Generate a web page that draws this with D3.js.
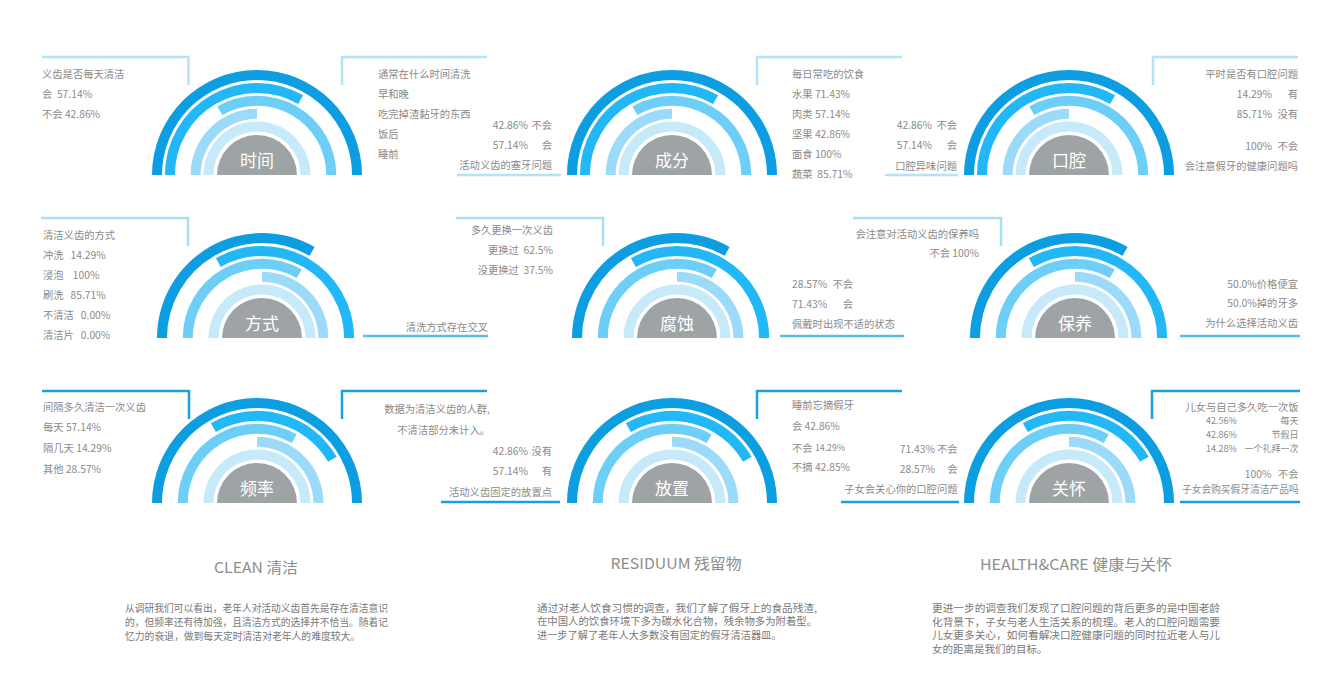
<!DOCTYPE html>
<html><head><meta charset="utf-8">
<script src="https://cdn.jsdelivr.net/npm/d3@7"></script>
<style>
html,body{margin:0;padding:0;background:#fff;}
svg{display:block;}
text{font-family:"Noto Sans CJK SC","Noto Sans",sans-serif;white-space:pre;}
</style></head><body>
<svg id="chart" width="1341" height="683"></svg>
<script>
// ================= DATA =================
const gaugeNames = ["时间","成分","口腔","方式","腐蚀","保养","频率","放置","关怀"];
const ringIds = ["R1","R2","R3","R4","R5"];
// covered share of each half ring: [start, end], 0 = left end, 1 = right end
const patternTop    = [[0,1],[0,0.667],[0.333,1],[0,0.5],[0,1]];
const patternMiddle = [[0,0.667],[0.333,1],[0,0.667],[0.5,1],[0,1]];
const patternBottom = [[0,1],[0.333,0.833],[0,0.667],[0.5,1],[0,1]];
const gaugePatterns = [patternTop,patternTop,patternTop,patternMiddle,patternMiddle,patternMiddle,patternBottom,patternBottom,patternBottom];

// annotation texts
const qDailyClean = ["义齿是否每天清洁","会  57.14%","不会 42.86%"];
const qCleanTime = ["通常在什么时间清洗","早和晚","吃完掉渣黏牙的东西","饭后","睡前"];
const qFoodStuck = [["42.86%","不会"],["57.14%","会"]];
const qFoodStuckTitle = "活动义齿的塞牙问题";
const qDiet = ["每日常吃的饮食","水果 71.43%","肉类 57.14%","坚果 42.86%","面食 100%","蔬菜  85.71%"];
const qOdor = [["42.86%","不会"],["57.14%","会"]];
const qOdorTitle = "口腔异味问题";
const qOralTitle = "平时是否有口腔问题";
const qOral = [["14.29%","有"],["85.71%","没有"]];
const qDentureHealth = [["100%","不会"]];
const qDentureHealthTitle = "会注意假牙的健康问题吗";

const qMethod = ["清洁义齿的方式","冲洗   14.29%","浸泡    100%","刷洗   85.71%","不清洁   0.00%","清洁片   0.00%"];
const qCross = ["清洗方式存在交叉"];
const qReplace = ["多久更换一次义齿","更换过  62.5%","没更换过  37.5%"];
const qDiscomfort = [["28.57%","不会"],["71.43%","会"]];
const qDiscomfortTitle = "佩戴时出现不适的状态";
const qCare = ["会注意对活动义齿的保养吗","不会 100%"];
const qWhy = ["50.0%价格便宜","50.0%掉的牙多","为什么选择活动义齿"];

const qFreq = ["间隔多久清洁一次义齿","每天 57.14%","隔几天 14.29%","其他 28.57%"];
const qNote = ["数据为清洁义齿的人群,","不清洁部分未计入。"];
const qPlace = [["42.86%","没有"],["57.14%","有"]];
const qPlaceTitle = "活动义齿固定的放置点";
const qSleep = ["睡前忘摘假牙","会 42.86%","不会 14.29%","不摘 42.85%"];
const qChildCare = [["71.43%","不会"],["28.57%","会"]];
const qChildCareTitle = "子女会关心你的口腔问题";
const qMealTitle = "儿女与自己多久吃一次饭";
const qMeal = [["42.56%","每天"],["42.86%","节假日"],["14.28%","一个礼拜一次"]];
const qBuy = [["100%","不会"]];
const qBuyTitle = "子女会购买假牙清洁产品吗";

const sectionTitles = ["CLEAN 清洁","RESIDUUM 残留物","HEALTH&CARE 健康与关怀"];
const paraClean = ["从调研我们可以看出，老年人对活动义齿首先是存在清洁意识","的，但频率还有待加强，且清洁方式的选择并不恰当。随着记","忆力的衰退，做到每天定时清洁对老年人的难度较大。"];
const paraResiduum = ["通过对老人饮食习惯的调查，我们了解了假牙上的食品残渣,","在中国人的饮食环境下多为碳水化合物，残余物多为附着型。","进一步了解了老年人大多数没有固定的假牙清洁器皿。"];
const paraHealth = ["更进一步的调查我们发现了口腔问题的背后更多的是中国老龄","化背景下，子女与老人生活关系的梳理。老人的口腔问题需要","儿女更多关心，如何看解决口腔健康问题的同时拉近老人与儿","女的距离是我们的目标。"];

// ================= LAYOUT =================
const svg = d3.select("#chart");
const gaugeCenters = [[257,175],[672,175],[1069,175],[262,338],[677,338],[1075,338],[257,503],[672,503],[1069,503]];
const angle = d3.scaleLinear().domain([0,1]).range([-Math.PI/2, Math.PI/2]);
const innerR = d3.scaleLinear().domain([0,4]).range([95,43.5]);
const ringW = 10;
const ringColor = d3.scaleOrdinal(ringIds, ["#0c9ee0","#22b7f6","#6dcff8","#9bdaf8","#c7eafa"]);
const arc = d3.arc();
const textGray = "#8a8a8a";
const FS = 10.3;

gaugeNames.forEach((name,gi)=>{
  const [cx,cy] = gaugeCenters[gi];
  const g = svg.append("g").attr("transform",`translate(${cx},${cy})`);
  g.selectAll("path.ring").data(gaugePatterns[gi].map((p,i)=>({id:ringIds[i],i,p})))
    .join("path").attr("class","ring")
    .attr("fill",d=>ringColor(d.id))
    .attr("d",d=>arc({innerRadius:innerR(d.i),outerRadius:innerR(d.i)+ringW,startAngle:angle(d.p[0]),endAngle:angle(d.p[1])}));
  g.append("path").attr("fill","#9ea3a6")
    .attr("d",arc({innerRadius:0,outerRadius:40,startAngle:angle(0),endAngle:angle(1)}));
  g.append("text").attr("x",0).attr("y",-16).attr("text-anchor","middle")
    .attr("dominant-baseline","central").attr("fill","#fff").attr("font-size",17).text(name);
});

// bracket lines
function poly(pts,color){
  svg.append("path").attr("d",d3.line()(pts)).attr("fill","none")
    .attr("stroke",color).attr("stroke-width",2.5);
}
const c1="#b5e2f6", c2a="#a9def5", c2b="#56bdee", c3="#1c9fe1";
poly([[42,57],[188.5,57],[188.5,85]],c1);
poly([[342,85],[342,57],[487,57]],c1);
poly([[457,175],[561,175]],c1);
poly([[757,85],[757,57],[902,57]],c1);
poly([[885,175],[958,175]],c1);
poly([[1153,85],[1153,57],[1298,57]],c1);

poly([[41,218],[188,218],[188,246]],c2a);
poly([[456,218],[603,218],[603,246]],c2a);
poly([[853,218],[1001,218],[1001,246]],c2a);
poly([[363,336],[488,336]],c2b);
poly([[780,336],[904,336]],c2b);
poly([[1180,336],[1300,336]],c2b);

poly([[42,391],[189,391],[189,419]],c3);
poly([[342,419],[342,391],[487,391]],c3);
poly([[441,502],[560,502]],c3);
poly([[757,419],[757,391],[902,391]],c3);
poly([[841,502],[959,502]],c3);
poly([[1152,419],[1152,391],[1300,391]],c3);
poly([[1180,502],[1300,502]],c3);

// text helpers
function lines(arr,x,y0,dy,anchor,size){
  return arr.map((t,i)=>svg.append("text").attr("x",x).attr("y",y0+i*dy).attr("text-anchor",anchor)
      .attr("dominant-baseline","central").attr("fill",textGray)
      .attr("font-size",size||FS).text(t));
}
function pairs(arr,px,panchor,lx,y0,dy,size){
  arr.forEach((p,i)=>{
    svg.append("text").attr("x",px).attr("y",y0+i*dy).attr("text-anchor",panchor)
      .attr("dominant-baseline","central").attr("fill",textGray).attr("font-size",size||FS).text(p[0]);
    svg.append("text").attr("x",lx).attr("y",y0+i*dy).attr("text-anchor","end")
      .attr("dominant-baseline","central").attr("fill",textGray).attr("font-size",size||FS).text(p[1]);
  });
}

// row 1
lines(qDailyClean,42,73,20.2,"start");
lines(qCleanTime,378,73,20.2,"start");
pairs(qFoodStuck,528,"end",552,124,20.5);
lines([qFoodStuckTitle],552,164.5,0,"end");
lines(qDiet,792,73,20,"start");
pairs(qOdor,932,"end",957,124,20.5);
lines([qOdorTitle],957,165,0,"end");
lines([qOralTitle],1298,73,0,"end");
pairs(qOral,1272,"end",1298,93,20);
pairs(qDentureHealth,1272,"end",1298,145,0);
lines([qDentureHealthTitle],1298,165,0,"end");

// row 2
lines(qMethod,43,234,20,"start");
lines(qCross,488,326,0,"end");
lines(qReplace,553,229,20,"end");
pairs(qDiscomfort,792,"start",853,283,20);
lines([qDiscomfortTitle],792,323,0,"start");
lines(qCare,979,233,19,"end");
lines(qWhy,1298,283,19.5,"end");

// row 3
lines(qFreq,43,406,20.8,"start");
lines(qNote,490,408,21,"end");
pairs(qPlace,528,"end",552,450,20.5);
lines([qPlaceTitle],552,491,0,"end");
lines([qSleep[0],qSleep[1]],792,404.6,21,"start");
{
  const t = svg.append("text").attr("x",792).attr("y",446.8).attr("dominant-baseline","central")
    .attr("fill",textGray).attr("font-size",FS);
  t.append("tspan").text(qSleep[2].split(" ")[0]+" ");
  t.append("tspan").attr("font-size",8.8).text(qSleep[2].split(" ")[1]);
}
lines([qSleep[3]],792,466,0,"start");
pairs(qChildCare,935,"end",957.5,448,20);
lines([qChildCareTitle],957.5,488,0,"end");
lines([qMealTitle],1298.6,406,0,"end");
pairs(qMeal,1206,"start",1298.6,420.5,14,9);
pairs(qBuy,1271.5,"end",1298.6,473.5,0);
lines([qBuyTitle],1182,488,0,"start")[0].attr("textLength",116.6).attr("lengthAdjust","spacingAndGlyphs");

// bottom section
const titlePos = [[256,566,84],[676,562,131],[1076,563,192]];
sectionTitles.forEach((t,i)=>{
  svg.append("text").attr("x",titlePos[i][0]-titlePos[i][2]/2).attr("y",titlePos[i][1])
    .attr("dominant-baseline","central").attr("fill","#8e8e8e").attr("font-size",15)
    .attr("textLength",titlePos[i][2]).attr("lengthAdjust","spacingAndGlyphs").text(t);
});
function para(arr,x,ys,w,size){
  arr.forEach((t,i)=>{
    const el = svg.append("text").attr("x",x).attr("y",ys[i]).attr("dominant-baseline","central")
      .attr("fill","#787878").attr("font-size",size).text(t);
    if(i<arr.length-1) el.attr("textLength",w).attr("lengthAdjust","spacingAndGlyphs");
  });
}
para(paraClean,125,[608,622,636],263,9.8);
para(paraResiduum,537,[607,620.5,634],280,10.2);
para(paraHealth,932,[607,621,634.5,648],288,10.5);
</script>
</body></html>
